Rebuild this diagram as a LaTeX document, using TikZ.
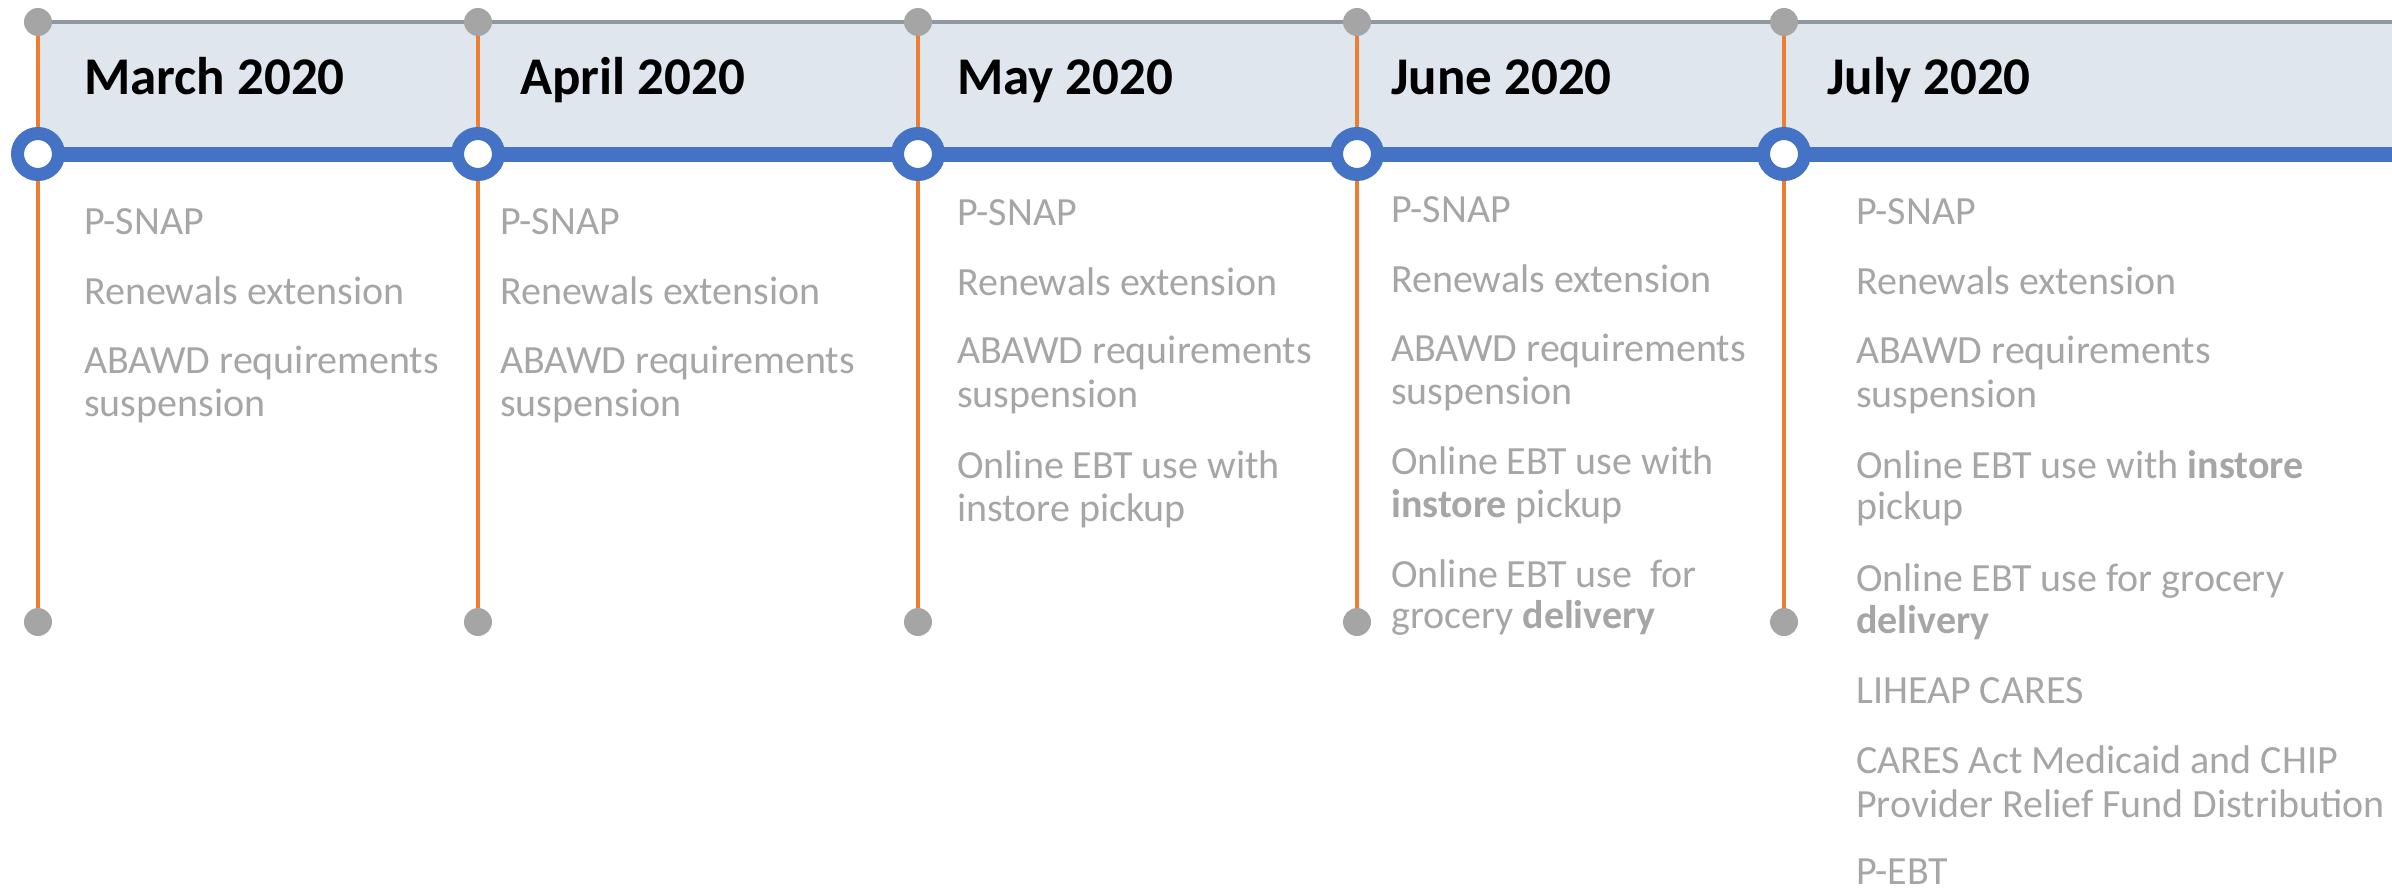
\documentclass[tikz,border=0pt]{standalone}
\usepackage{fontspec}
\setmainfont{Carlito}
\usetikzlibrary{backgrounds}
\definecolor{hdr}{RGB}{223,230,237}
\definecolor{topline}{RGB}{143,151,160}
\definecolor{bluel}{RGB}{68,114,196}
\definecolor{orng}{RGB}{237,125,49}
\definecolor{dotg}{RGB}{165,165,165}
\definecolor{txtg}{RGB}{166,166,166}
\begin{document}
\begin{tikzpicture}[x=1pt,y=-1pt,
 dot/.style={circle,fill=dotg,inner sep=0pt,minimum size=28pt},
 ring/.style={circle,draw=bluel,fill=white,line width=13pt,inner sep=0pt,minimum size=41pt},
 vline/.style={draw=orng,line width=4pt},
 gline/.style={draw=topline,line width=4.5pt},
 bline/.style={draw=bluel,line width=15pt},
 month/.style={font=\fontsize{53}{60}\selectfont\bfseries,text=black,inner sep=0pt,anchor=base west},
 item/.style={font=\fontsize{40}{43}\selectfont,text=txtg,inner sep=0pt,anchor=base west}]
\useasboundingbox (0,0) rectangle (2392,889);
\coordinate (tend) at (2392,22);
\coordinate (bend) at (2392,154);
\coordinate (hdrA) at (38,22);
\coordinate (hdrB) at (2392,154);
% dots and rings
\foreach \i/\x in {1/38,2/478,3/918,4/1357,5/1784}{
  \node[dot] (t\i) at (\x,22) {};
  \node[dot] (b\i) at (\x,622) {};
  \node[ring] (r\i) at (\x,154) {};
}
\begin{pgfonlayer}{background}
  \fill[hdr] (hdrA) rectangle (hdrB);
  \draw[gline] (t1.center) -- (tend);
  \draw[bline] (r1.center) -- (bend);
  \foreach \i in {1,...,5}{
    \draw[vline] (t\i.center) -- (b\i.center);
  }
\end{pgfonlayer}
% headers
\node[month] (h1) at (84,94) {March 2020};
\node[month] (h2) at (520,94) {April 2020};
\node[month] (h3) at (957,94) {May 2020};
\node[month] (h4) at (1391,94) {June 2020};
\node[month] (h5) at (1827,94) {July 2020};
% March
\node[item] (m1) at (84,234) {P-SNAP};
\node[item] (m2) at (84,304) {Renewals extension};
\node[item] (m3) at (84,373) {ABAWD requirements};
\node[item] (m4) at (84,416) {suspension};
% April
\node[item] (a1) at (500,234) {P-SNAP};
\node[item] (a2) at (500,304) {Renewals extension};
\node[item] (a3) at (500,373) {ABAWD requirements};
\node[item] (a4) at (500,416) {suspension};
% May
\node[item] (y1) at (957,225) {P-SNAP};
\node[item] (y2) at (957,295) {Renewals extension};
\node[item] (y3) at (957,363) {ABAWD requirements};
\node[item] (y4) at (957,407) {suspension};
\node[item] (y5) at (957,478) {Online EBT use with};
\node[item] (y6) at (957,521) {instore pickup};
% June
\node[item] (j1) at (1391,222) {P-SNAP};
\node[item] (j2) at (1391,292) {Renewals extension};
\node[item] (j3) at (1391,361) {ABAWD requirements};
\node[item] (j4) at (1391,404) {suspension};
\node[item] (j5) at (1391,474) {Online EBT use with};
\node[item] (j6) at (1391,517) {\textbf{instore} pickup};
\node[item] (j7) at (1391,587) {Online EBT use~ for};
\node[item] (j8) at (1391,628) {grocery \textbf{delivery}};
% July
\node[item] (l1) at (1856,224) {P-SNAP};
\node[item] (l2) at (1856,294) {Renewals extension};
\node[item] (l3) at (1856,363) {ABAWD requirements};
\node[item] (l4) at (1856,407) {suspension};
\node[item] (l5) at (1856,478) {Online EBT use with \textbf{instore}};
\node[item] (l6) at (1856,519) {pickup};
\node[item] (l7) at (1856,591) {Online EBT use for grocery};
\node[item] (l8) at (1856,633) {\textbf{delivery}};
\node[item] (l9) at (1856,703) {LIHEAP CARES};
\node[item] (l10) at (1856,773) {CARES Act Medicaid and CHIP};
\node[item] (l11) at (1856,817) {Provider Relief Fund Distribution};
\node[item] (l12) at (1856,884) {P-EBT};
\end{tikzpicture}
\end{document}
